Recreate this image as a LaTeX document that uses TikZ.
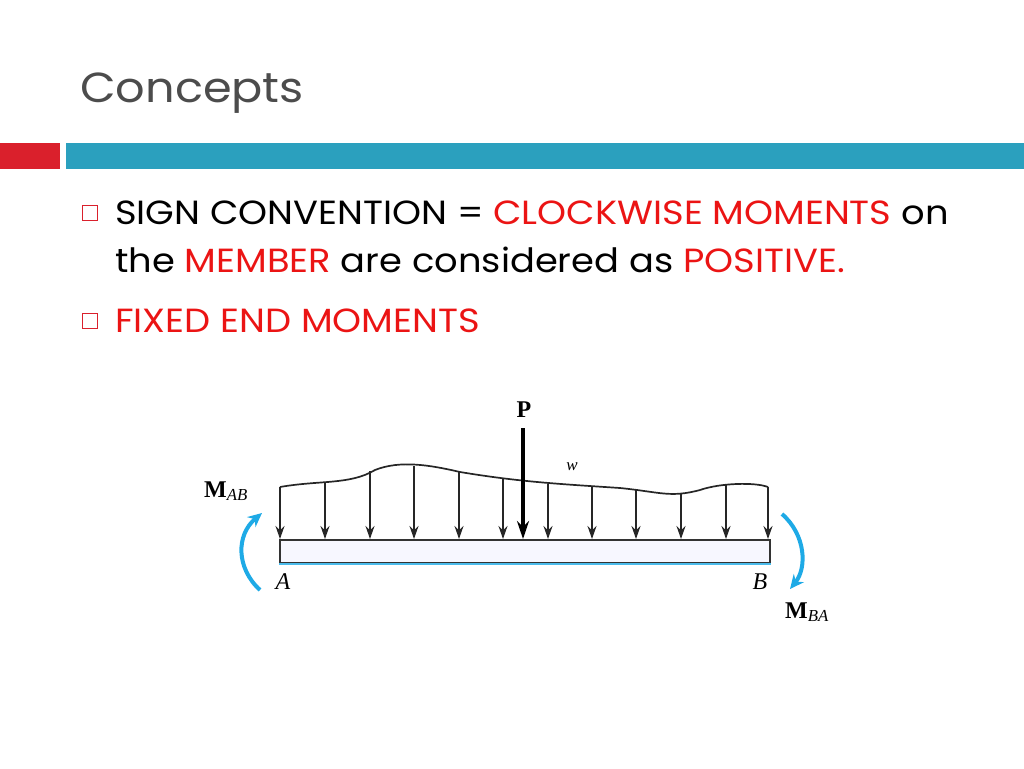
\documentclass[tikz,border=0pt]{standalone}
\usepackage{fontspec}
\setmainfont{Poppins}[FakeStretch=1.1]
\newfontfamily\serifb{Liberation Serif}
\usetikzlibrary{arrows.meta}
\definecolor{tred}{RGB}{235,20,20}
\definecolor{barred}{RGB}{218,32,44}
\definecolor{barblue}{RGB}{43,160,190}
\definecolor{mblue}{RGB}{30,170,230}
\begin{document}
\begin{tikzpicture}[x=1pt,y=-1pt,
  bul/.style={draw=barred,line width=1.2pt,minimum size=15pt,inner sep=0pt},
  txt/.style={anchor=base west,inner sep=0pt,font=\fontsize{33.5}{38}\selectfont},
  ld/.style={-{Stealth[length=13pt,width=9pt]},line width=1.7pt,black!85},
  mom/.style={-{Stealth[length=14pt,width=13pt]},line width=4pt,mblue},
  lab/.style={font=\serifb\fontsize{24}{28}\selectfont,inner sep=0pt}]
\useasboundingbox (0,0) rectangle (1024,768);
\node[anchor=base west,inner sep=0pt,text=black!70,font=\fontsize{42}{48}\selectfont] (title) at (80,102) {Concepts};
\fill[barred] (0,143) rectangle (60,169);
\fill[barblue] (66,143) rectangle (1024,169);
\node[bul] (b1) at (90,213) {};
\node[bul] (b2) at (90,321) {};
\node[txt] (l1) at (115,224) {SIGN CONVENTION = \textcolor{tred}{CLOCKWISE MOMENTS} on};
\node[txt] (l2) at (115,272) {the \textcolor{tred}{MEMBER} are considered as \textcolor{tred}{POSITIVE.}};
\node[txt,text=tred] (l3) at (115,332) {FIXED END MOMENTS};
% beam
\node[draw=black!80,fill=blue!3,line width=2pt,minimum width=490pt,minimum height=23pt,inner sep=0pt] (beam) at (525,551) {};
\draw[mblue!80,line width=2pt] (beam.south west) -- (beam.south east);
% load curve
\draw[line width=1.7pt,black!85] (280,487) .. controls (320,480) and (350,485) .. (375,470)
  .. controls (400,460) and (430,465) .. (460,472)
  .. controls (520,482) and (560,484) .. (620,488)
  .. controls (660,492) and (670,498) .. (700,490)
  .. controls (720,483) and (755,482) .. (768,487);
\foreach \x/\y in {280/487,325/482,370/471,414/466,459/472,503/478,548/484,592/487,636/489,681/494,726/484,768/487}
  \draw[ld] (\x,\y) -- (\x,539);
\coordinate (ptop) at (523,428);
\draw[-{Stealth[length=18pt,width=12pt]},line width=3.5pt] (ptop) -- (523,539);
\node[lab,font=\serifb\bfseries\fontsize{24}{28}\selectfont] (P) at (524,410) {P};
\node[lab,font=\serifb\itshape\fontsize{17}{20}\selectfont] (w) at (572,467) {w};
\node[lab,anchor=base west] (mab) at (204,497) {\textbf{M}\textsubscript{\itshape AB}};
\node[lab,anchor=base west] (mba) at (785,618) {\textbf{M}\textsubscript{\itshape BA}};
\node[lab,font=\serifb\itshape\fontsize{24}{28}\selectfont] (A) at (283,582) {A};
\node[lab,font=\serifb\itshape\fontsize{24}{28}\selectfont] (B) at (760,582) {B};
\coordinate (ma1) at (260,590); \coordinate (ma2) at (262,513);
\draw[mom] (ma1) .. controls (236,568) and (236,535) .. (ma2);
\coordinate (mb1) at (782,514); \coordinate (mb2) at (790,589);
\draw[mom] (mb1) .. controls (806,535) and (807,568) .. (mb2);
\end{tikzpicture}
\end{document}
